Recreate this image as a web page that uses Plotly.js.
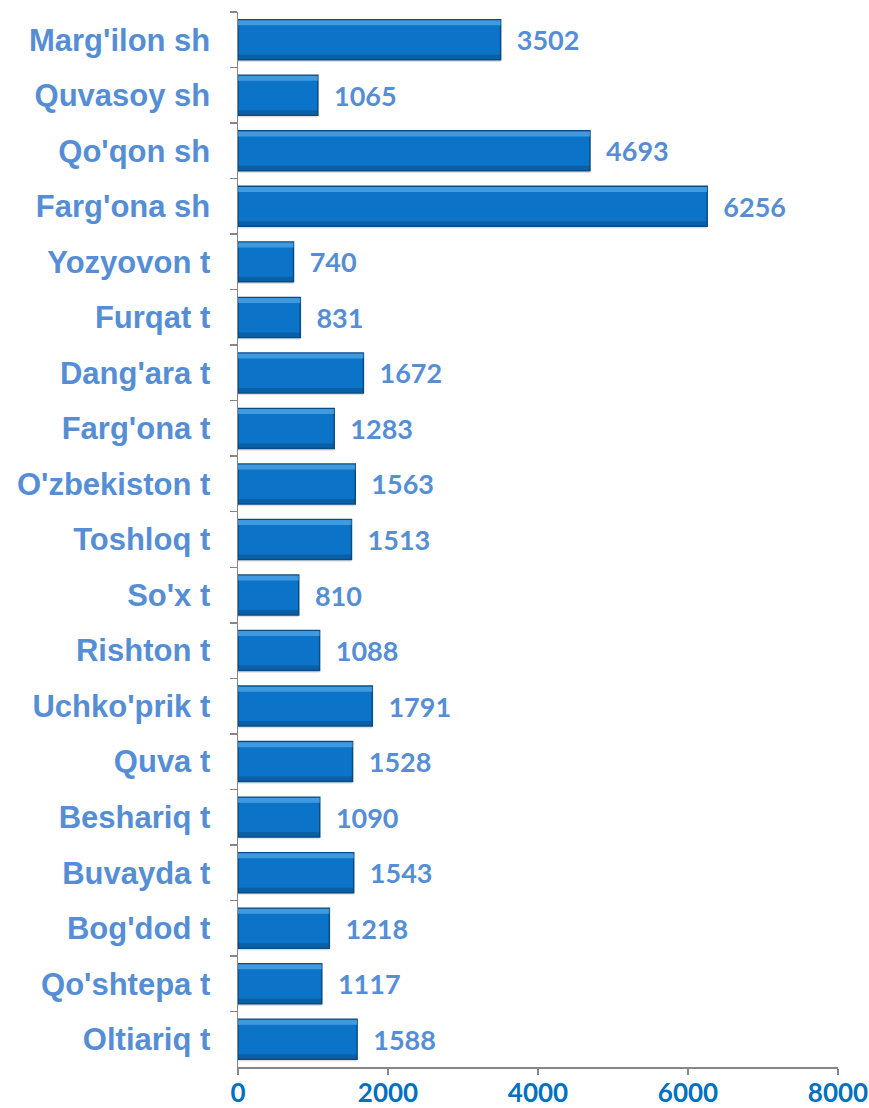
<!DOCTYPE html>
<html>
<head>
<meta charset="utf-8">
<script src="https://cdn.plot.ly/plotly-3.0.1.min.js"></script>
<style>html,body{margin:0;padding:0;background:#fff;}#chart{width:869px;height:1108px;}</style>
</head>
<body>
<div id="chart"></div>
<script>
const categories = ["Marg'ilon sh","Quvasoy sh","Qo'qon sh","Farg'ona sh","Yozyovon t","Furqat t","Dang'ara t","Farg'ona t","O'zbekiston t","Toshloq t","So'x t","Rishton t","Uchko'prik t","Quva t","Beshariq t","Buvayda t","Bog'dod t","Qo'shtepa t","Oltiariq t"];
const values = [3502,1065,4693,6256,740,831,1672,1283,1563,1513,810,1088,1791,1528,1090,1543,1218,1117,1588];
const xTicks = [0,2000,4000,6000,8000];

const shadow = {
  type: 'bar', orientation: 'h', y: categories, x: values,
  width: 0.72, offset: -0.32,
  marker: {color: 'rgba(0,0,0,0.12)'},
  hoverinfo: 'skip', showlegend: false
};
const main = {
  type: 'bar', orientation: 'h', y: categories, x: values,
  width: 0.72, offset: -0.36,
  marker: {color: '#0B74C8', line: {color: '#0B4B82', width: 1.5}},
  text: values.map(v => '  ' + v), textposition: 'outside', cliponaxis: false,
  textfont: {family: 'Lato, "Open Sans", sans-serif', size: 27, color: '#558ED5', weight: 'bold'},
  hoverinfo: 'skip', showlegend: false
};
const hiTop = {
  type: 'bar', orientation: 'h', y: categories, x: values,
  width: 0.09, offset: -0.35,
  marker: {color: 'rgba(100,180,240,0.6)'},
  hoverinfo: 'skip', showlegend: false
};
const loBottom = {
  type: 'bar', orientation: 'h', y: categories, x: values,
  width: 0.08, offset: 0.27,
  marker: {color: 'rgba(8,70,125,0.45)'},
  hoverinfo: 'skip', showlegend: false
};

const layout = {
  width: 869, height: 1108,
  margin: {l: 238, r: 31, t: 12, b: 41},
  paper_bgcolor: '#fff', plot_bgcolor: '#fff',
  barmode: 'overlay',
  font: {family: 'Liberation Sans, Arial, sans-serif'},
  xaxis: {
    range: [0, 8000], tickvals: xTicks, ticktext: xTicks.map(String),
    showgrid: false, zeroline: false, showline: true, linecolor: '#868686', linewidth: 1.5,
    ticks: 'outside', ticklen: 6, tickcolor: '#868686', tickwidth: 1.5,
    ticklabelstandoff: -4,
    tickfont: {family: 'Lato, "Open Sans", sans-serif', size: 26, color: '#0070C0', weight: 'bold'},
    fixedrange: true
  },
  yaxis: {
    type: 'category', autorange: 'reversed',
    showgrid: false, zeroline: false, showline: true, linecolor: '#868686', linewidth: 1.5,
    ticks: 'outside', ticklen: 7, tickcolor: '#868686', tickwidth: 1.5, tickson: 'boundaries',
    ticklabelstandoff: 20,
    tickfont: {family: 'Liberation Sans, Arial, sans-serif', size: 31, color: '#558ED5', weight: 'bold'},
    fixedrange: true
  }
};

Plotly.newPlot('chart', [shadow, main, hiTop, loBottom], layout, {displayModeBar: false, staticPlot: true});
</script>
</body>
</html>
